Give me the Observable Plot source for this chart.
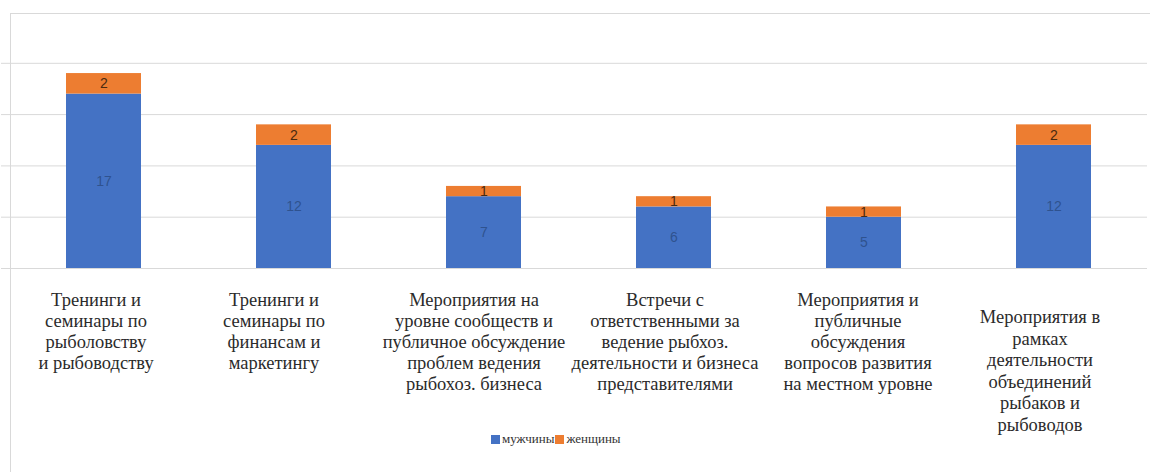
<!DOCTYPE html>
<html><head><meta charset="utf-8">
<script src="https://cdn.jsdelivr.net/npm/d3@7"></script>
<script src="https://cdn.jsdelivr.net/npm/@observablehq/plot@0.6"></script>
<style>
body{margin:0;background:#fff;}
#wrap{position:relative;width:1150px;height:472px;overflow:hidden;background:#fff;}
#frame{position:absolute;left:10px;top:13px;width:1140px;height:459px;border-left:1px solid #d9d9d9;border-top:1px solid #d9d9d9;pointer-events:none;}
#legend{position:absolute;top:431px;left:491px;font-family:"Liberation Serif",serif;font-size:13px;color:#333;display:flex;align-items:center;white-space:nowrap;}
.sw{display:inline-block;width:9px;height:9px;margin-right:2px;}
</style></head>
<body><div id="wrap"><div id="chart"></div><div id="frame"></div><div id="legend"></div></div>
<script>
const categories = [
  "Тренинги и\nсеминары по\nрыболовству\nи рыбоводству",
  "Тренинги и\nсеминары по\nфинансам и\nмаркетингу",
  "Мероприятия на\nуровне сообществ и\nпубличное обсуждение\nпроблем ведения\nрыбохоз. бизнеса",
  "Встречи с\nответственными за\nведение рыбхоз.\nдеятельности и бизнеса\nпредставителями",
  "Мероприятия и\nпубличные\nобсуждения\nвопросов развития\nна местном уровне",
  "Мероприятия в\nрамках\nдеятельности\nобъединений\nрыбаков и\nрыбоводов"
];
const men = [17, 12, 7, 6, 5, 12];
const women = [2, 2, 1, 1, 1, 2];
const seriesNames = ["мужчины", "женщины"];
const seriesColors = ["#4472C4", "#ED7D31"];
const yTicks = [0, 5, 10, 15, 20];

const table = [];
categories.forEach((c, i) => {
  table.push({cat: c, series: seriesNames[0], value: men[i]});
  table.push({cat: c, series: seriesNames[1], value: women[i]});
});

// horizontal nudge of each category label (style only)
const labelDx = [-8, -20, -10, -9, -6, -14];
const labelFont = "Liberation Serif";

const labelMarks = categories.map((c, i) =>
  Plot.text([c], {x: d => d, y: () => 0, text: d => d,
    lineAnchor: "top",
    lineHeight: i === categories.length - 1 ? 1.17 : 1.13,
    dy: i === categories.length - 1 ? 39 : 23,
    dx: labelDx[i],
    fontFamily: labelFont, fontSize: 18.5, fill: "#2b2b2b"})
);

const chart = Plot.plot({
  width: 1150,
  height: 472,
  marginLeft: 1,
  marginRight: 3,
  marginTop: 12,
  marginBottom: 204,
  style: {fontFamily: "Liberation Serif"},
  x: {domain: categories, range: [8.5, 1149], paddingInner: 0.605, paddingOuter: 0.3025, axis: null},
  y: {domain: [0, 25], range: [268, 11.5], axis: null},
  color: {domain: seriesNames, range: seriesColors},
  marks: [
    Plot.ruleY(yTicks, {stroke: "#d9d9d9", strokeWidth: 1}),
    Plot.barY(table, {x: "cat", y: "value", fill: "series", z: "series", order: seriesNames}),
    Plot.text(table, Plot.stackY({x: "cat", y: "value", z: "series", order: seriesNames,
      text: d => d.series === seriesNames[0] ? String(d.value) : "",
      fill: "#2F528F", fontSize: 14, fontFamily: "Liberation Sans"})),
    Plot.text(table, Plot.stackY({x: "cat", y: "value", z: "series", order: seriesNames,
      text: d => d.series === seriesNames[1] ? String(d.value) : "",
      fill: "#4a2a10", fontSize: 14, fontFamily: "Liberation Sans"})),
    ...labelMarks
  ]
});
document.getElementById("chart").appendChild(chart);

const legend = document.getElementById("legend");
seriesNames.forEach((name, i) => {
  const sw = document.createElement("span");
  sw.className = "sw";
  sw.style.background = seriesColors[i];
  if (i > 0) sw.style.marginLeft = "1px";
  legend.appendChild(sw);
  const t = document.createElement("span");
  t.textContent = name;
  legend.appendChild(t);
});
</script>
</body></html>
